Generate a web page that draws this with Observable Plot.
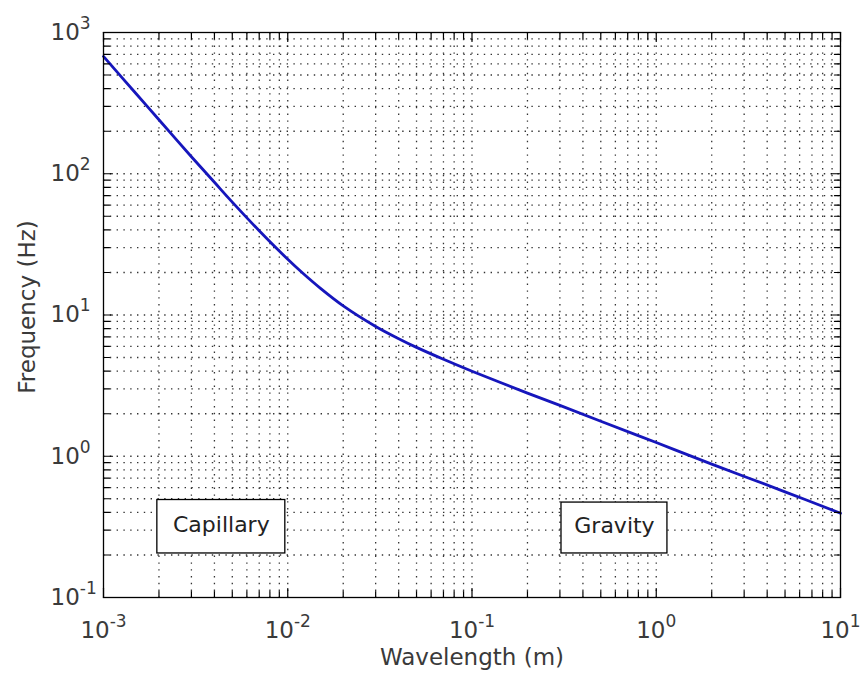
<!DOCTYPE html>
<html><head><meta charset="utf-8">
<script src="https://cdn.jsdelivr.net/npm/d3@7"></script>
<script src="https://cdn.jsdelivr.net/npm/@observablehq/plot@0.6"></script>
<style>body{margin:0;background:#fff;} svg{display:block;}</style>
</head><body><div id="chart"></div>
<script>
// Data
const wavelength = [0.001, 0.0015, 0.002, 0.003, 0.004, 0.005, 0.007, 0.01, 0.012, 0.015, 0.02, 0.03, 0.04, 0.05, 0.07, 0.1, 0.2, 0.3, 0.5, 1, 2, 5, 10];
const frequency  = [677, 370, 241, 132, 87, 63, 39.5, 24.8, 19.9, 15.5, 11.6, 8.3, 6.8, 5.9, 4.86, 4.0, 2.8, 2.29, 1.77, 1.25, 0.88, 0.56, 0.395];

const xDomain = [1e-3, 10];
const yDomain = [0.1, 1000];
const xTickValues = [1e-3, 1e-2, 1e-1, 1, 10];
const xTickLabels = ["10^-3", "10^-2", "10^-1", "10^0", "10^1"];
const yTickValues = [0.1, 1, 10, 100, 1000];
const yTickLabels = ["10^-1", "10^0", "10^1", "10^2", "10^3"];

const regionLabels = ["Capillary", "Gravity"];
const regionX1 = [0.00196, 0.306];
const regionX2 = [0.0097, 1.15];
const regionY1 = [0.205, 0.205];
const regionY2 = [0.49, 0.47];

const xLabel = "Wavelength (m)";
const yLabel = "Frequency (Hz)";

const curve = wavelength.map((w, i) => ({w, f: frequency[i]}));
const regions = regionLabels.map((label, i) => ({label, x1: regionX1[i], x2: regionX2[i], y1: regionY1[i], y2: regionY2[i]}));

const xAll = d3.scaleLog().domain(xDomain).ticks();
const yAll = d3.scaleLog().domain(yDomain).ticks();
const xGrid = xAll.filter(v => v > xDomain[0] * 1.0001 && v < xDomain[1] * 0.9999);
const yGrid = yAll.filter(v => v > yDomain[0] * 1.0001 && v < yDomain[1] * 0.9999);
const isMajor = v => Math.abs(Math.log10(v) - Math.round(Math.log10(v))) < 1e-6;

const tickShape = {draw(context, l) { context.moveTo(0, 0); context.lineTo(0, -l); }};
const tickOpts = {shape: tickShape, anchor: "start", stroke: "#000", strokeWidth: 1.2, length: v => isMajor(v) ? 9 : 6};

const gridStyle = {stroke: "#000", strokeWidth: 1.3, strokeDasharray: "1.4,5.4", strokeOpacity: 0.8};

const svg = Plot.plot({
  width: 861,
  height: 675,
  marginLeft: 103,
  marginRight: 21,
  marginTop: 32,
  marginBottom: 78,
  style: {fontFamily: "'DejaVu Sans', sans-serif", fontSize: "23px", color: "#3a3a3a", background: "#fff"},
  x: {type: "log", domain: xDomain, label: null},
  y: {type: "log", domain: yDomain, label: null},
  length: {type: "identity"},
  marks: [
    Plot.ruleX(xGrid, {x: d => d, ...gridStyle}),
    Plot.ruleY(yGrid, {y: d => d, ...gridStyle}),
    Plot.rect(regions, {x1: "x1", x2: "x2", y1: "y1", y2: "y2", fill: "#fff", stroke: "#000", strokeWidth: 1.3}),
    Plot.line(curve, {x: "w", y: "f", stroke: "#1616bc", strokeWidth: 2.8, curve: "catmull-rom"}),
    Plot.vector(xAll, {x: d => d, y: yDomain[0], rotate: 0, ...tickOpts}),
    Plot.vector(xAll, {x: d => d, y: yDomain[1], rotate: 180, ...tickOpts}),
    Plot.vector(yAll, {y: d => d, x: xDomain[0], rotate: 90, ...tickOpts}),
    Plot.vector(yAll, {y: d => d, x: xDomain[1], rotate: -90, ...tickOpts}),
    Plot.frame({stroke: "#000", strokeWidth: 1.3}),
    Plot.text(regions, {x: d => Math.sqrt(d.x1 * d.x2), y: d => Math.sqrt(d.y1 * d.y2), text: "label", fontSize: 22, fill: "#222", lineAnchor: "middle", dy: -2}),
    Plot.axisX(xTickValues, {tickFormat: d => xTickLabels[xTickValues.indexOf(d)], tickSize: 0, tickPadding: 24, label: null, fontSize: 23}),
    Plot.axisY(yTickValues, {tickFormat: d => yTickLabels[yTickValues.indexOf(d)], tickSize: 0, tickPadding: 0, label: null, fontSize: 23}),
    Plot.text([yLabel], {text: d => d, frameAnchor: "left", textAnchor: "middle", rotate: -90, dx: -76, dy: -8, fontSize: 23, fill: "#3a3a3a", lineAnchor: "middle"}),
    Plot.text([xLabel], {text: d => d, frameAnchor: "bottom", textAnchor: "middle", dy: 60, fontSize: 23, fill: "#3a3a3a", lineAnchor: "middle"})
  ]
});

// superscript exponents on tick labels
d3.select(svg).selectAll('g[aria-label="x-axis tick label"] text, g[aria-label="y-axis tick label"] text').each(function() {
  const isY = this.parentNode.getAttribute("aria-label").startsWith("y");
  const s = this.textContent;
  const [base, exp] = s.split("^");
  const t = d3.select(this);
  t.text(null);
  const b = t.append("tspan").text(base);
  t.append("tspan").attr("dy", -11).attr("font-size", 17).text(exp);
  if (isY) { t.attr("text-anchor", "start"); b.attr("dx", -53); }
});

document.getElementById("chart").appendChild(svg);
</script>
</body></html>
